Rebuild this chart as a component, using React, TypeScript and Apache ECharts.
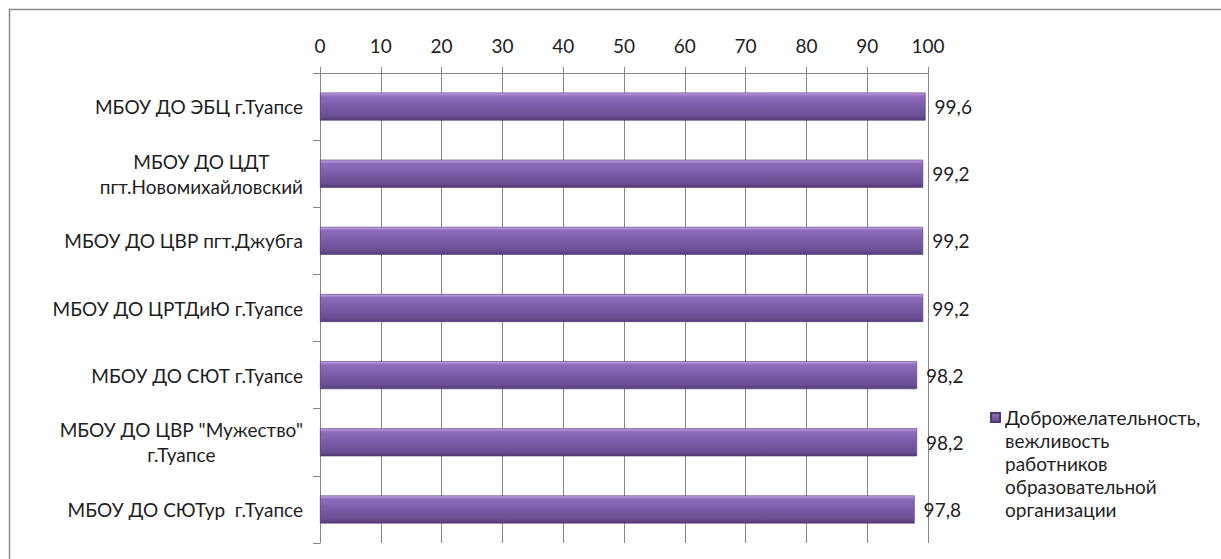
import React, { useEffect, useRef } from "react";
import * as echarts from "echarts";

const categories = [
  "МБОУ ДО ЭБЦ г.Туапсе",
  "МБОУ ДО ЦДТ\nпгт.Новомихайловский",
  "МБОУ ДО ЦВР пгт.Джубга",
  "МБОУ ДО ЦРТДиЮ г.Туапсе",
  "МБОУ ДО СЮТ г.Туапсе",
  "МБОУ ДО ЦВР \"Мужество\"\nг.Туапсе",
  "МБОУ ДО СЮТур  г.Туапсе",
];
const values = [99.6, 99.2, 99.2, 99.2, 98.2, 98.2, 97.8];
const seriesName =
  "Доброжелательность,\nвежливость\nработников\nобразовательной\nорганизации";
const valueMin = 0;
const valueMax = 100;
const valueInterval = 10;

const FONT = "Lato, 'Open Sans', sans-serif";
const FS = 19;
const TEXT = "#1e1e1e";
const AXIS = "#868686";

export default function App() {
  const ref = useRef<HTMLDivElement>(null);
  useEffect(() => {
    if (!ref.current) return;
    const chart = echarts.init(ref.current, null, { renderer: "svg" });
    const barColor = new echarts.graphic.LinearGradient(0, 0, 0, 1, [
      { offset: 0, color: "#c4a8e8" },
      { offset: 0.12, color: "#8f6cbd" },
      { offset: 0.5, color: "#7a5ba6" },
      { offset: 0.85, color: "#6a4e93" },
      { offset: 1, color: "#523a75" },
    ]);
    chart.setOption({
      animation: false,
      textStyle: { fontFamily: FONT },
      graphic: [
        {
          type: "rect",
          shape: { x: 9.5, y: 9.5, width: 1240, height: 600 },
          style: { fill: "none", stroke: "#8a8a8a", lineWidth: 1.5 },
          silent: true,
        },
      ],
      grid: { left: 320, right: 293, top: 73, bottom: 16, containLabel: false },
      xAxis: {
        type: "value",
        position: "top",
        min: valueMin,
        max: valueMax,
        interval: valueInterval,
        axisLine: { show: true, lineStyle: { color: AXIS, width: 1 } },
        axisTick: { show: true, length: 6, lineStyle: { color: AXIS } },
        splitLine: { show: true, lineStyle: { color: AXIS, width: 1 } },
        axisLabel: { color: TEXT, fontSize: FS, fontFamily: FONT, margin: 18 },
      },
      yAxis: {
        type: "category",
        inverse: true,
        data: categories,
        axisLine: { show: true, lineStyle: { color: AXIS, width: 1 } },
        axisTick: { show: true, length: 7, lineStyle: { color: AXIS } },
        axisLabel: {
          color: TEXT,
          fontSize: FS,
          fontFamily: FONT,
          margin: 17,
          lineHeight: 25,
          formatter: (v: string) =>
            v
              .split("\n")
              .map((l) => `{a|${l}}`)
              .join("\n"),
          rich: {
            a: {
              align: "center",
              color: TEXT,
              fontSize: FS,
              fontFamily: FONT,
              lineHeight: 25,
            },
          },
        },
      },
      legend: {
        show: true,
        orient: "vertical",
        left: 985,
        top: 309,
        itemWidth: 9,
        itemHeight: 9,
        icon: "rect",
        data: [seriesName],
        formatter: (name: string) => "\n\n\n\n" + name,
        textStyle: {
          color: TEXT,
          fontSize: FS,
          fontFamily: FONT,
          lineHeight: 23,
        },
      },
      series: [
        {
          name: seriesName,
          type: "bar",
          data: values,
          barWidth: 28,
          itemStyle: {
            color: barColor,
            borderColor: "#4f3873",
            borderWidth: 0.6,
          },
          label: {
            show: true,
            position: "right",
            distance: 9,
            color: TEXT,
            fontSize: FS,
            fontFamily: FONT,
            formatter: (p: any) => String(p.value).replace(".", ","),
          },
        },
      ],
    });
    return () => chart.dispose();
  }, []);
  return (
    <div
      ref={ref}
      style={{
        position: "fixed",
        left: 0,
        top: 0,
        width: 1221,
        height: 559,
        background: "#fff",
      }}
    />
  );
}
